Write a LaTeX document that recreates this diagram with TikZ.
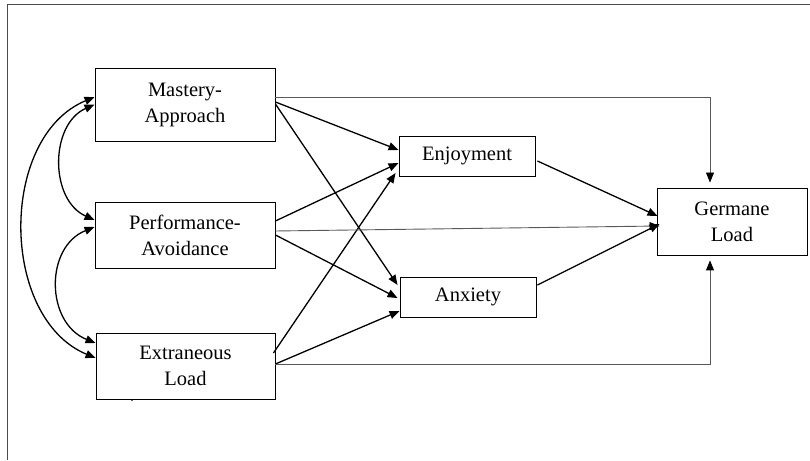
\documentclass[tikz,border=0pt]{standalone}
\usepackage{fontspec}
\setmainfont{Liberation Serif}
\usetikzlibrary{arrows.meta}

\begin{document}
\begin{tikzpicture}[x=1pt, y=1pt,
		varbox/.style={draw, line width=0.9pt, align=center, inner sep=0pt, font=\fontsize{20.5}{26}\selectfont},
		effect/.style={-{Triangle[length=10pt,width=8pt]}, line width=1.3pt},
		direct/.style={-{Triangle[length=10pt,width=8pt,color=black]}, line width=0.9pt, draw=black!65},
		covar/.style={{Triangle[length=10pt,width=8pt]}-{Triangle[length=10pt,width=8pt]}, line width=1.3pt}]
			%%%%% START %%%%%
			
			\useasboundingbox (0, 0) rectangle (810, 460);
			\draw[line width=0.9pt, color=black!70] (7, 0) -- (7, 456) -- (810, 456);
			
			% exogenous variables
			\node[varbox, minimum width=180, minimum height=73] (ma) at (185, 355.5) {Mastery-\\Approach};
			\node[varbox, minimum width=180, minimum height=66] (pa) at (185, 225) {Performance-\\Avoidance};
			\node[varbox, minimum width=179, minimum height=66] (el) at (185.5, 94) {Extraneous\\Load};
			\node[font=\fontsize{12}{14}\selectfont] (dot) at (132, 59) {.};
			
			% emotions
			\node[varbox, minimum width=136, minimum height=40] (en) at (467, 304) {Enjoyment};
			\node[varbox, minimum width=136, minimum height=40] (an) at (468, 163) {Anxiety};
			
			% outcome
			\node[varbox, minimum width=150, minimum height=67] (gl) at (732, 238.5) {Germane\\Load};
			
			% correlations
			\draw[covar] ([yshift=0]ma.west) .. controls +(-45,-20) and +(-45,20) .. ([yshift=15]pa.west);
			\draw[covar] ([yshift=8]pa.west) .. controls +(-50,-20) and +(-50,20) .. ([yshift=23]el.west);
			\draw[covar] ([yshift=7.5]ma.west) .. controls +(-96,-40) and +(-96,40) .. ([yshift=8]el.west);
			
			% paths to the emotions
			\draw[effect] ([yshift=2.5]ma.east) -- ([yshift=6]en.west);
			\draw[effect] ([yshift=0.5]ma.east) -- ([xshift=-2,yshift=12]an.west);
			\draw[effect] ([yshift=14]pa.east) -- ([yshift=-7]en.west);
			\draw[effect] ([yshift=0]pa.east) -- ([xshift=-2,yshift=-1]an.west);
			\draw[effect] ([xshift=-2,yshift=13]el.east) -- ([xshift=-3,yshift=-17]en.west);
			\draw[effect] ([yshift=2]el.east) -- ([yshift=-14]an.west);
			
			% paths to germane load
			\draw[effect] ([xshift=2,yshift=-5]en.east) -- ([xshift=1,yshift=5.5]gl.west);
			\draw[effect] ([xshift=1,yshift=12]an.east) -- ([xshift=3,yshift=-2.5]gl.west);
			\draw[direct] ([yshift=4]pa.east) -- ([xshift=3,yshift=-4.5]gl.west);
			\draw[direct] ([yshift=7.5]ma.east) -| ([xshift=-22,yshift=5]gl.north);
			\draw[direct] ([yshift=2]el.east) -| ([xshift=-22,yshift=-5]gl.south);
			
			%%%%% END %%%%%
		\end{tikzpicture}
\end{document}
